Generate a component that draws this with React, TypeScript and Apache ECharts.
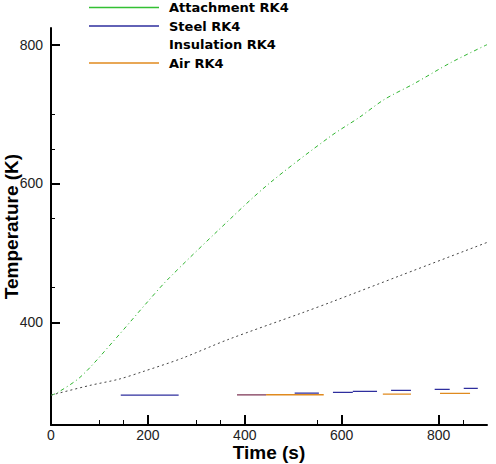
import React, { useEffect, useRef } from "react";
import * as echarts from "echarts";

// Attachment RK4 (green)
const attachTime = [0, 12, 62, 131, 200, 240, 343, 447, 577, 636, 688, 750, 825, 900];
const attachTemp = [295, 298, 322, 374.5, 430, 461, 531, 598, 668, 695, 721, 744, 774, 800];

// Insulation RK4 (dark dotted)
const insulTime = [0, 80, 140, 190, 270, 365, 520, 578, 720, 900];
const insulTemp = [295, 309, 318, 329, 348, 375, 414, 429, 467, 515];

// Steel RK4 (blue dashes)
const steelStart = [144, 503, 582, 623, 702, 792, 852];
const steelEnd = [263.5, 553, 623, 673, 743, 823, 881];
const steelTemp = [295.1, 298, 299, 300.5, 301.9, 303.4, 304.8];

// Air RK4 (orange dashes)
const airStart = [444, 685, 803];
const airEnd = [563, 743, 865];
const airTemp = [295.6, 296.6, 297.6];

// overlapping steel/air piece (maroon)
const overlapStart = [384];
const overlapEnd = [444];
const overlapTemp = [295.4];

const xMajorTicks = [0, 200, 400, 600, 800];
const xMinorTicks = [100, 150, 300, 350, 550, 850];
const yMajorTicks = [400, 600, 800];
const yMinorTicks = [450, 550, 650, 700];

const seriesNames = ["Attachment RK4", "Steel RK4", "Insulation RK4", "Air RK4"];

const GREEN = "#2fb52f";
const BLUE = "#2e2e9e";
const ORANGE = "#e08a1e";
const GRAY = "#444444";
const MAROON = "#7d3555";
const NONE = "rgba(0,0,0,0)";

function segments(name: string, starts: number[], ends: number[], temps: number[], color: string) {
  return starts.map((s, i) => ({
    name,
    type: "line",
    data: [
      [s, temps[i]],
      [ends[i], temps[i]],
    ],
    showSymbol: false,
    symbol: "none",
    lineStyle: { color, width: 1.3 },
    itemStyle: { color },
    z: 3,
  }));
}

export default function App() {
  const ref = useRef<HTMLDivElement>(null);
  useEffect(() => {
    if (!ref.current) return;
    const chart = echarts.init(ref.current, undefined, { renderer: "svg" });
    const axisFont = { fontFamily: "'Liberation Sans', Arial, sans-serif", fontSize: 14, color: "#222" };
    const titleFont = {
      fontFamily: "'Liberation Sans', Arial, sans-serif",
      fontSize: 19,
      fontWeight: "bold" as const,
      color: "#000",
    };
    chart.setOption({
      animation: false,
      backgroundColor: "#fff",
      grid: { left: 51, right: 9, top: 28, bottom: 39, containLabel: false, outerBoundsMode: "none" },
      legend: {
        orient: "vertical",
        left: 88,
        top: 1,
        padding: 0,
        itemWidth: 70,
        itemHeight: 12,
        itemGap: 5.5,
        itemStyle: { color: NONE, borderWidth: 0, opacity: 0 },
        textStyle: {
          fontFamily: "'DejaVu Sans', Verdana, sans-serif",
          fontWeight: "bold",
          fontSize: 13,
          color: "#000",
          padding: [0, 0, 0, 5],
        },
        data: [
          { name: seriesNames[0], lineStyle: { type: "solid", color: "#33c033", width: 1.5, opacity: 1 } },
          { name: seriesNames[1], lineStyle: { type: "solid", color: BLUE, width: 1.3, opacity: 1 } },
          { name: seriesNames[2], lineStyle: { color: NONE } },
          { name: seriesNames[3], lineStyle: { type: "solid", color: ORANGE, width: 1.3, opacity: 1 } },
        ],
      },
      xAxis: [
        {
          type: "value",
          min: 0,
          max: 900,
          position: "bottom",
          name: "Time (s)",
          nameLocation: "middle",
          nameGap: 18,
          nameMoveOverlap: false,
          nameTextStyle: titleFont,
          axisLine: { show: true, lineStyle: { color: "#000", width: 2 } },
          axisTick: { show: true, inside: true, length: 10, lineStyle: { color: "#000", width: 2 }, customValues: xMajorTicks },
          axisLabel: { ...axisFont, margin: 3, customValues: xMajorTicks },
          splitLine: { show: false },
        },
        {
          type: "value",
          min: 0,
          max: 900,
          position: "bottom",
          offset: 0,
          axisLine: { show: false },
          axisTick: { show: true, inside: true, length: 5, lineStyle: { color: "#000", width: 1 }, customValues: xMinorTicks },
          axisLabel: { show: false },
          splitLine: { show: false },
        },
      ],
      yAxis: [
        {
          type: "value",
          min: 252,
          max: 824,
          position: "left",
          name: "Temperature (K)",
          nameLocation: "middle",
          nameGap: 30,
          nameRotate: 90,
          nameMoveOverlap: false,
          nameTextStyle: titleFont,
          axisLine: { show: true, lineStyle: { color: "#000", width: 2 } },
          axisTick: { show: true, inside: true, length: 9, lineStyle: { color: "#000", width: 2 }, customValues: yMajorTicks },
          axisLabel: { ...axisFont, margin: 8, customValues: yMajorTicks },
          splitLine: { show: false },
        },
        {
          type: "value",
          min: 252,
          max: 824,
          position: "left",
          offset: 0,
          axisLine: { show: false },
          axisTick: { show: true, inside: true, length: 4, lineStyle: { color: "#000", width: 1 }, customValues: yMinorTicks },
          axisLabel: { show: false },
          splitLine: { show: false },
        },
      ],
      series: [
        {
          name: seriesNames[0],
          type: "line",
          data: attachTime.map((t, i) => [t, attachTemp[i]]),
          showSymbol: false,
          symbol: "none",
          smooth: 0.3,
          lineStyle: { color: GREEN, width: 1, type: [4, 3, 1, 3] },
          itemStyle: { color: GREEN },
        },
        ...segments(seriesNames[1], steelStart, steelEnd, steelTemp, BLUE),
        {
          name: seriesNames[2],
          type: "line",
          data: insulTime.map((t, i) => [t, insulTemp[i]]),
          showSymbol: false,
          symbol: "none",
          smooth: 0.3,
          lineStyle: { color: GRAY, width: 1, type: [2, 3] },
          itemStyle: { color: GRAY },
        },
        ...segments(seriesNames[3], airStart, airEnd, airTemp, ORANGE),
        ...segments("overlap", overlapStart, overlapEnd, overlapTemp, MAROON),
      ],
    });
    return () => chart.dispose();
  }, []);
  return <div ref={ref} style={{ position: "fixed", left: 0, top: 0, width: 496, height: 464 }} />;
}
